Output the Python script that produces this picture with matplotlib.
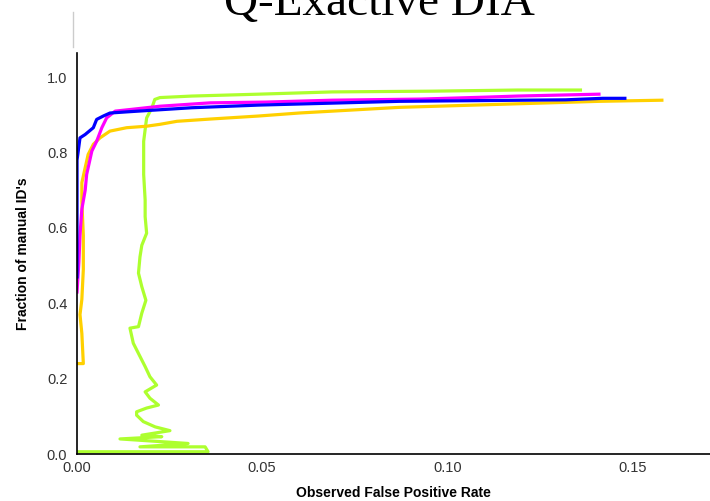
import matplotlib
matplotlib.use("Agg")
import matplotlib.pyplot as plt
from matplotlib.lines import Line2D

plt.rcParams['font.family'] = ['Liberation Sans', 'DejaVu Sans']

# observed false positive rate (x) vs fraction of manual IDs (y)
blue_x = [0, 0, 0.0008, 0.0022, 0.0044, 0.0053, 0.0071, 0.0089, 0.0134, 0.0197,
          0.031, 0.049, 0.087, 0.132, 0.142, 0.148]
blue_y = [0.47, 0.78, 0.839, 0.848, 0.866, 0.888, 0.897, 0.905, 0.908, 0.912,
          0.919, 0.926, 0.936, 0.940, 0.944, 0.944]

magenta_x = [0, 0.0005, 0.0008, 0.0013, 0.0022, 0.0026, 0.004, 0.0053, 0.0067, 0.008,
             0.0103, 0.015, 0.0224, 0.036, 0.051, 0.069, 0.093, 0.11, 0.119, 0.141]
magenta_y = [0.43, 0.51, 0.58, 0.65, 0.70, 0.742, 0.804, 0.83, 0.866, 0.892,
             0.91, 0.915, 0.923, 0.932, 0.934, 0.939, 0.942, 0.947, 0.950, 0.955]

yellow_x = [0, 0.0017, 0.0013, 0.0008, 0.0013, 0.0017, 0.0017, 0.0013, 0.0013, 0.0022,
            0.003, 0.0044, 0.0062, 0.0089, 0.0134, 0.0188, 0.0224, 0.027, 0.036, 0.049,
            0.060, 0.087, 0.114, 0.141, 0.158]
yellow_y = [0.24, 0.24, 0.32, 0.37, 0.41, 0.49, 0.58, 0.67, 0.72, 0.76,
            0.795, 0.822, 0.839, 0.857, 0.866, 0.870, 0.875, 0.883, 0.889, 0.897,
            0.905, 0.920, 0.928, 0.936, 0.939]

green_x = [0, 0.0354, 0.0346, 0.017, 0.030, 0.0116, 0.0229, 0.0175, 0.0251, 0.0211,
           0.0179, 0.0161, 0.0161, 0.0188, 0.022, 0.0197, 0.0184, 0.0215, 0.0197, 0.0184,
           0.0152, 0.0143, 0.0166, 0.0175, 0.0186, 0.0175, 0.0166, 0.017, 0.0175, 0.0188,
           0.0184, 0.0184, 0.018, 0.018, 0.0188, 0.0202, 0.021, 0.0224, 0.031, 0.049,
           0.069, 0.096, 0.119, 0.136]
green_y = [0.006, 0.006, 0.019, 0.019, 0.028, 0.040, 0.046, 0.050, 0.062, 0.072,
           0.086, 0.103, 0.112, 0.122, 0.130, 0.148, 0.165, 0.183, 0.205, 0.232,
           0.294, 0.334, 0.338, 0.374, 0.408, 0.444, 0.48, 0.523, 0.554, 0.586,
           0.63, 0.674, 0.742, 0.83, 0.892, 0.918, 0.941, 0.946, 0.95, 0.955,
           0.961, 0.963, 0.966, 0.966]

xticks = [0.00, 0.05, 0.10, 0.15]
yticks = [0.0, 0.2, 0.4, 0.6, 0.8, 1.0]

fig = plt.figure(figsize=(7.1, 5.01), dpi=100)
ax = fig.add_axes([0.1085, 0.0938, 0.8915, 0.8002])

lw = 2.3
ax.plot(green_x, green_y, color='#adff2f', lw=lw)
ax.plot(yellow_x, yellow_y, color='#ffd000', lw=lw)
ax.plot(magenta_x, magenta_y, color='#ff00ff', lw=lw)
ax.plot(blue_x, blue_y, color='#0000ff', lw=lw)

ax.set_xlim(0, 0.171)
ax.set_ylim(0, 1.064)
ax.set_xticks(xticks)
ax.set_xticklabels(['%.2f' % t for t in xticks])
ax.set_yticks(yticks)
ax.set_yticklabels(['%.1f' % t for t in yticks])
ax.tick_params(axis='x', length=0, labelsize=10.5, labelcolor='#333333', pad=5)
ax.tick_params(axis='y', length=0, labelsize=10.5, labelcolor='#333333', pad=7)
ax.spines['top'].set_visible(False)
ax.spines['right'].set_visible(False)
ax.spines['left'].set_linewidth(1.2)
ax.spines['bottom'].set_linewidth(1.2)

ax.set_xlabel('Observed False Positive Rate', fontsize=10, fontweight='bold', labelpad=8)
ax.set_ylabel("Fraction of manual ID's", fontsize=10, fontweight='bold', labelpad=12)

fig.text(0.534, 0.970, 'Q-Exactive DIA', family='Liberation Serif', fontsize=34,
         ha='center', va='baseline')
fig.add_artist(Line2D([73 / 710, 73 / 710], [1 - 12 / 501, 1 - 47 / 501],
                      color='#cccccc', lw=1))

fig.savefig('out.png', dpi=100)
